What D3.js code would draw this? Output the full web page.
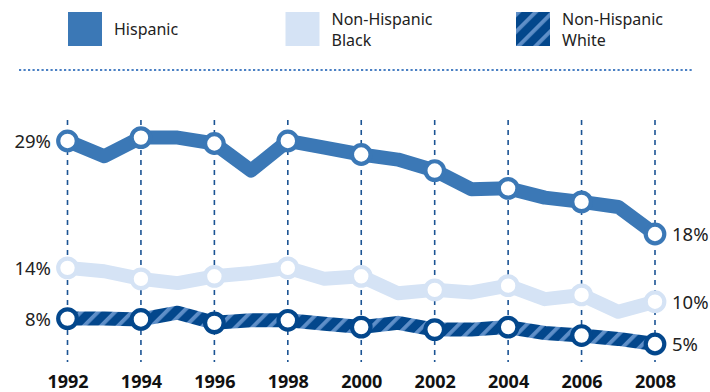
<!DOCTYPE html>
<html>
<head>
<meta charset="utf-8">
<script src="https://cdn.jsdelivr.net/npm/d3@7"></script>
<style>
  html, body { margin: 0; padding: 0; background: #fff; }
  svg { display: block; font-family: "Noto Sans", sans-serif; }
</style>
</head>
<body>
<svg id="chart" width="710" height="392"></svg>
<script>
// Share of people in each group, 1992–2008 (percent)
const years = [1992, 1993, 1994, 1995, 1996, 1997, 1998, 1999, 2000, 2001, 2002, 2003, 2004, 2005, 2006, 2007, 2008];
const tickYears = [1992, 1994, 1996, 1998, 2000, 2002, 2004, 2006, 2008];
const hispanic = [29, 27.2, 29.4, 29.4, 28.7, 25.5, 29.0, 28.2, 27.4, 26.8, 25.5, 23.3, 23.4, 22.3, 21.8, 21.2, 18];
const black    = [14, 13.6, 12.7, 12.2, 13.0, 13.4, 14.0, 12.7, 13.0, 11.0, 11.4, 11.1, 11.9, 10.3, 10.8, 8.8, 10];
const white    = [8, 8.0, 7.9, 8.7, 7.5, 7.8, 7.8, 7.4, 7.0, 7.5, 6.7, 6.7, 7.0, 6.3, 6.0, 5.6, 5];
const seriesNames = ["Hispanic", "Non-Hispanic Black", "Non-Hispanic White"];
const legendLines = [["Hispanic"], ["Non-Hispanic", "Black"], ["Non-Hispanic", "White"]];

const colHisp = "#3b78b6";
const colBlack = "#d5e3f5";
const colWhite = "#03478c";
const colStripe = "#5f8fc8";

const svg = d3.select("#chart");

// diagonal stripe fill for the Non-Hispanic White series
const defs = svg.append("defs");
const pat = defs.append("pattern")
  .attr("id", "stripes")
  .attr("patternUnits", "userSpaceOnUse")
  .attr("width", 12).attr("height", 12)
  .attr("patternTransform", "rotate(45)");
pat.append("rect").attr("width", 12).attr("height", 12).attr("fill", colWhite);
pat.append("rect").attr("x", 0).attr("width", 3.8).attr("height", 12).attr("fill", colStripe);

const x = d3.scaleLinear().domain([1992, 2008]).range([67.5, 655]);
const y = d3.scaleLinear().domain([0, 30]).range([386.3, 132.5]);

// legend
const legendX = [68, 285.5, 516];
const legendFill = [colHisp, colBlack, "url(#stripes)"];
const lg = svg.append("g").selectAll("g").data(seriesNames).join("g")
  .attr("transform", (d, i) => `translate(${legendX[i]},12)`);
lg.append("rect").attr("width", 34).attr("height", 34)
  .attr("fill", (d, i) => legendFill[i]);
lg.each(function (d, i) {
  const lines = legendLines[i];
  const t = d3.select(this).append("text")
    .attr("x", 46)
    .attr("fill", "#222")
    .style("font-size", "16px");
  if (lines.length === 1) {
    t.append("tspan").attr("x", 46).attr("y", 22.5).text(lines[0]);
  } else {
    lines.forEach((l, j) => t.append("tspan").attr("x", 46).attr("y", 13 + j * 20.7).text(l));
  }
});

// dotted separator
svg.append("line")
  .attr("x1", 19).attr("x2", 693).attr("y1", 70).attr("y2", 70)
  .attr("stroke", "#4a80c4").attr("stroke-width", 2.2)
  .attr("stroke-dasharray", "2.2,2.3");

// vertical dashed guides at labelled years
svg.append("g").selectAll("line").data(tickYears).join("line")
  .attr("x1", d => x(d)).attr("x2", d => x(d))
  .attr("y1", 120).attr("y2", 362)
  .attr("stroke", "#1c5494").attr("stroke-width", 1.6)
  .attr("stroke-dasharray", "5,5");

// year axis labels
const axis = d3.axisBottom(x).tickValues(tickYears).tickFormat(d3.format("d")).tickSize(0);
const ax = svg.append("g").attr("transform", "translate(0,370)").call(axis);
ax.select(".domain").remove();
ax.selectAll("text")
  .attr("dy", 0).attr("y", 18)
  .attr("fill", "#111")
  .style("font-family", "'Noto Sans', sans-serif")
  .style("font-size", "18px").style("font-weight", "bold");

const line = d3.line().x((d, i) => x(years[i])).y(d => y(d));
const seriesData = [
  { vals: hispanic, stroke: colHisp, ring: colHisp },
  { vals: black, stroke: colBlack, ring: colBlack },
  { vals: white, stroke: "url(#stripes)", ring: colWhite }
];

seriesData.forEach(s => {
  svg.append("path")
    .datum(s.vals)
    .attr("d", line)
    .attr("fill", "none")
    .attr("stroke", s.stroke)
    .attr("stroke-width", 14)
    .attr("stroke-linejoin", "round")
    .attr("stroke-linecap", "round");
});

seriesData.forEach(s => {
  const pts = years.map((yr, i) => ({ yr, v: s.vals[i] })).filter(p => tickYears.includes(p.yr));
  svg.append("g").selectAll("circle").data(pts).join("circle")
    .attr("cx", d => x(d.yr)).attr("cy", d => y(d.v))
    .attr("r", 9.3)
    .attr("fill", "#fff")
    .attr("stroke", s.ring)
    .attr("stroke-width", 4.2);
});

// start and end value labels
const fmt = v => `${v}%`;
const lastIdx = years.length - 1;
[hispanic, black, white].forEach(vals => {
  svg.append("text")
    .attr("x", 51).attr("y", y(vals[0]) + 7)
    .attr("text-anchor", "end")
    .attr("fill", "#222")
    .style("font-size", "18.5px")
    .text(fmt(vals[0]));
  svg.append("text")
    .attr("x", 672).attr("y", y(vals[lastIdx]) + 7)
    .attr("text-anchor", "start")
    .attr("fill", "#222")
    .style("font-size", "18.5px")
    .text(fmt(vals[lastIdx]));
});
</script>
</body>
</html>
